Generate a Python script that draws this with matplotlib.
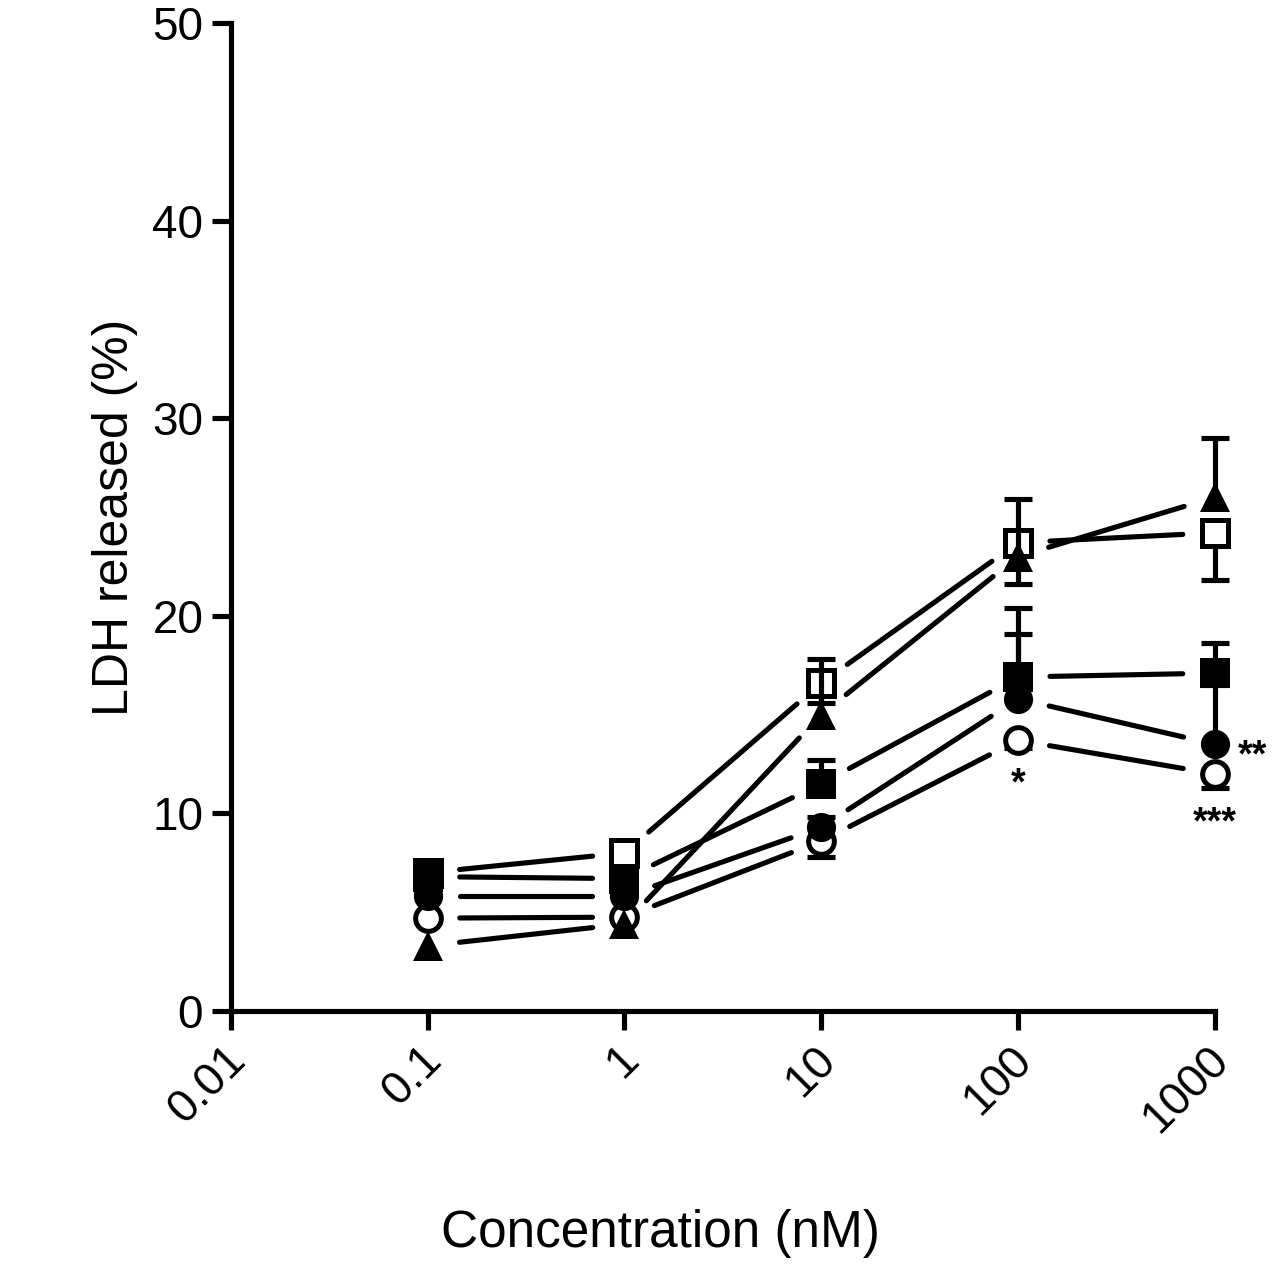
import matplotlib
matplotlib.use("Agg")
import matplotlib.pyplot as plt
import matplotlib.transforms as mtransforms
import numpy as np

plt.rcParams['font.family'] = ['Liberation Sans', 'DejaVu Sans']

conc = [0.1, 1, 10, 100, 1000]

# LDH released (%) per series, mean and one-sided error
open_square = [7.0, 8.0, 16.6, 23.7, 24.2]
open_square_err = [0.2, 0.2, 1.0, 2.1, 2.4]      # drawn below
triangle = [3.3, 4.4, 15.0, 23.0, 26.0]
triangle_err = [0.0, 0.0, 2.8, 2.9, 3.0]         # drawn above
filled_square = [6.8, 6.7, 11.5, 16.9, 17.1]
filled_square_err = [0.2, 0.2, 1.2, 3.5, 1.5]    # drawn above
filled_circle = [5.8, 5.8, 9.3, 15.8, 13.5]
filled_circle_err = [0.2, 0.2, 0.5, 3.3, 3.0]    # drawn above
open_circle = [4.7, 4.75, 8.6, 13.7, 12.0]
open_circle_err = [0.2, 0.2, 0.8, 0.4, 0.7]      # drawn below

# significance marks: (x, series y, text)
stars = [(100, 13.7, '*'), (1000, 13.5, '**'), (1000, 12.0, '***')]

fig = plt.figure(figsize=(12.76, 12.69), dpi=100)
ax = fig.add_axes([0.181, 0.2033, 0.771, 0.7786])
ax.set_xscale('log')
ax.set_xlim(0.01, 1000)
ax.set_ylim(0, 50)

LW = 3.7


def gapped_line(x, y, gap_px=32, zorder=1):
    '''draws prism style lines that stop short of each marker'''
    pts = ax.transData.transform(np.column_stack([x, y]))
    inv = ax.transData.inverted()
    for p0, p1 in zip(pts[:-1], pts[1:]):
        d = p1 - p0
        L = np.hypot(*d)
        u = d / L
        a = inv.transform(p0 + u * gap_px)
        b = inv.transform(p1 - u * gap_px)
        ax.plot([a[0], b[0]], [a[1], b[1]], color='black', lw=LW,
                solid_capstyle='round', zorder=zorder)


def one_sided_bars(x, y, err, sign, zorder):
    x, y, err = np.array(x), np.array(y), np.array(err)
    keep = err > 0
    x, y, err = x[keep], y[keep], err[keep]
    end = y + sign * err
    ax.vlines(x, y, end, colors='black', lw=LW, zorder=zorder, clip_on=False)
    ax.plot(x, end, linestyle='none', marker='_', markersize=20,
            markeredgewidth=LW, color='black', zorder=zorder, clip_on=False)


series = [
    (open_circle, open_circle_err, -1, 'o', 'white', 2),
    (open_square, open_square_err, -1, 's', 'white', 3),
    (triangle, triangle_err, 1, '^', 'black', 4),
    (filled_square, filled_square_err, 1, 's', 'black', 5),
    (filled_circle, filled_circle_err, 1, 'o', 'black', 6),
]

for vals, err, sign, mk, face, z in series:
    gapped_line(conc, vals, zorder=1)
    one_sided_bars(conc, vals, err, sign, z)
    ms = 21 if face == 'black' else 18.5
    ax.plot(conc, vals, linestyle='none', marker=mk, markersize=ms,
            markerfacecolor=face, markeredgecolor='black',
            markeredgewidth=3.6 if face == 'white' else 0, zorder=z,
            clip_on=False)

offsets = {'*': (0, -39), '**': (27, -16), '***': (0, -43)}
for x, y, s in stars:
    ax.annotate(s, (x, y), xytext=offsets[s], textcoords='offset points',
                ha='center', va='baseline', fontsize=27, fontweight='bold')

for side in ['top', 'right']:
    ax.spines[side].set_visible(False)
for side in ['left', 'bottom']:
    ax.spines[side].set_linewidth(LW)

ax.set_xticks([0.01, 0.1, 1, 10, 100, 1000])
ax.set_xticklabels(['0.01', '0.1', '1', '10', '100', '1000'],
                   rotation=45, ha='right', va='top', rotation_mode='anchor')
ax.xaxis.set_minor_locator(matplotlib.ticker.NullLocator())
ax.set_yticks([0, 10, 20, 30, 40, 50])
ax.tick_params(axis='both', length=14, width=LW, labelsize=33, direction='out')
ax.tick_params(axis='y', pad=6)
ax.tick_params(axis='x', pad=5)
shift = mtransforms.ScaledTranslation(-8 / 100, 0, fig.dpi_scale_trans)
for lab in ax.get_xticklabels():
    lab.set_transform(lab.get_transform() + shift)

ax.set_xlabel('Concentration (nM)', fontsize=37)
ax.xaxis.set_label_coords(0.437, -0.20)
ax.set_ylabel('LDH released (%)', fontsize=36)
ax.yaxis.set_label_coords(-0.094, 0.5)

fig.savefig('out.png', dpi=100)
